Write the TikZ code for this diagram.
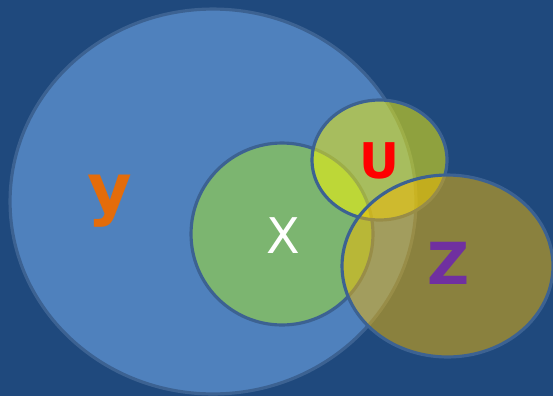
\documentclass[tikz,border=0pt]{standalone}
\usepackage{fontspec}
\setmainfont{DejaVu Sans}
\usepackage{tikz}
\usetikzlibrary{shapes.geometric}
\definecolor{bgblue}{HTML}{1F497D}
\definecolor{yblue}{HTML}{4F81BD}
\definecolor{xgreen}{HTML}{7CB570}
\definecolor{uyellow}{HTML}{FFFA00}
\definecolor{zgold}{HTML}{F5B900}
\definecolor{rimblue}{HTML}{3C6292}
\definecolor{yorange}{HTML}{E46C0A}
\definecolor{zpurple}{HTML}{7030A0}
\tikzset{
  setshape/.style={ellipse,draw=rimblue,line width=1.8pt,inner sep=0pt},
  seethru/.style={fill opacity=0.5},
  lbl/.style={anchor=base,inner sep=0pt},
}

\begin{document}
\begin{tikzpicture}[x=0.02cm,y=-0.02cm]
\fill[bgblue] (0,0) rectangle (553,396);
\useasboundingbox (0,0) rectangle (553,396);
% the four sets
\node[setshape,fill=yblue,minimum width=8.12cm,minimum height=7.7cm] (sety) at (213,201.5) {};
\node[setshape,fill=xgreen,minimum width=3.64cm,minimum height=3.64cm] (setx) at (282,234) {};
\node[setshape,fill=uyellow,seethru,minimum width=2.7cm,minimum height=2.4cm] (setu) at (379.5,160) {};
\node[setshape,fill=zgold,seethru,minimum width=4.22cm,minimum height=3.64cm] (setz) at (447.5,266) {};
% labels
\node[lbl,text=yorange,font=\fontsize{39}{39}\selectfont\bfseries] (laby) at (110,212.5) {y};
\node[lbl,text=white,font=\fontsize{28}{28}\selectfont] (labx) at (283,253) {X};
\node[lbl,text=red,font=\fontsize{28}{28}\selectfont\bfseries] (labu) at (379,178) {U};
\node[lbl,text=zpurple,font=\fontsize{33}{33}\selectfont\bfseries] (labz) at (448.5,284) {Z};
\end{tikzpicture}
\end{document}
